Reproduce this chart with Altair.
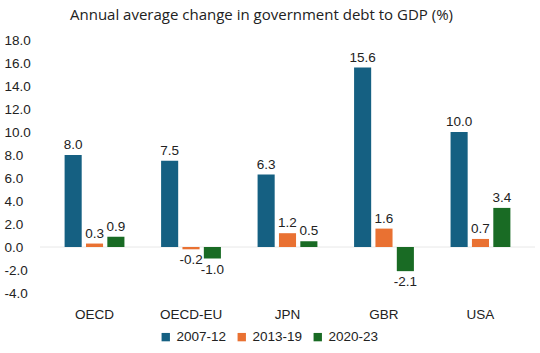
import altair as alt
import pandas as pd

regions = ["OECD", "OECD-EU", "JPN", "GBR", "USA"]
periods = ["2007-12", "2013-19", "2020-23"]
v_2007_12 = [8.0, 7.5, 6.3, 15.6, 10.0]
v_2013_19 = [0.3, -0.2, 1.2, 1.6, 0.7]
v_2020_23 = [0.9, -1.0, 0.5, -2.1, 3.4]
colors = ["#156082", "#E97132", "#196B24"]
y_ticks = [-4, -2, 0, 2, 4, 6, 8, 10, 12, 14, 16, 18]

rows = []
for series, vals in zip(periods, [v_2007_12, v_2013_19, v_2020_23]):
    for r, v in zip(regions, vals):
        rows.append({"region": r, "period": series, "value": v,
                     "label": f"{v:.1f}"})
df = pd.DataFrame(rows)

FONT = "Liberation Sans"

x_enc = alt.X("region:N", sort=regions,
              scale=alt.Scale(paddingInner=0.38, paddingOuter=0.255),
              axis=alt.Axis(title=None, labelAngle=0, domain=False, ticks=False,
                            labelFontSize=13.5, labelColor="#222222",
                            labelPadding=14, labelFont=FONT))
xoff = alt.XOffset("period:N", sort=periods,
                   scale=alt.Scale(paddingInner=0.2))
y_scale = alt.Scale(domain=[-4, 18], nice=False)
y_axis = alt.Axis(title=None, values=y_ticks, grid=False,
                  labelExpr="replace(format(datum.value, '.1f'), '\u2212', '-')",
                  labelOverlap=False,
                  domain=False, ticks=False, labelAlign="left",
                  labelPadding=36, labelFontSize=13.5,
                  labelColor="#222222", labelFont=FONT)


def y_enc(field):
    return alt.Y(field, scale=y_scale, axis=y_axis)


bars = alt.Chart(df).mark_bar().encode(
    x=x_enc,
    xOffset=xoff,
    y=y_enc("value:Q"),
    color=alt.Color("period:N", sort=periods,
                    scale=alt.Scale(domain=periods, range=colors),
                    legend=alt.Legend(title=None, orient="none", direction="horizontal",
                                      legendX=119, legendY=290,
                                      symbolType="square", symbolSize=70,
                                      symbolStrokeWidth=0,
                                      labelFontSize=13.5, labelFont=FONT,
                                      labelColor="#222222", columnPadding=8)),
)

pos = alt.Chart(df).transform_filter("datum.value >= 0").mark_text(
    baseline="bottom", dy=-3, fontSize=13.5, font=FONT, color="#222222"
).encode(x=x_enc, xOffset=xoff, y=y_enc("value:Q"), text="label:N")

neg = alt.Chart(df).transform_filter("datum.value < 0").mark_text(
    baseline="top", dy=4, fontSize=13.5, font=FONT, color="#222222"
).encode(x=x_enc, xOffset=xoff, y=y_enc("value:Q"), text="label:N")

zero = alt.Chart(pd.DataFrame({"z": [0]})).mark_rule(
    color="#e8e8e8", strokeWidth=1
).encode(y=y_enc("z:Q"))

chart = alt.layer(zero, bars, pos, neg).properties(
    width=495, height=253,
    padding={"left": 40, "top": 40, "right": 5, "bottom": 60},
    autosize=alt.AutoSizeParams(type="none"),
    title=alt.TitleParams("Annual average change in government debt to GDP (%)",
                          fontSize=15, font="Open Sans", fontWeight="normal",
                          color="#222222", anchor="middle", dx=-26, offset=10),
).configure_view(stroke=None)

chart.save("out.html", embed_options={"renderer": "svg", "actions": False})
